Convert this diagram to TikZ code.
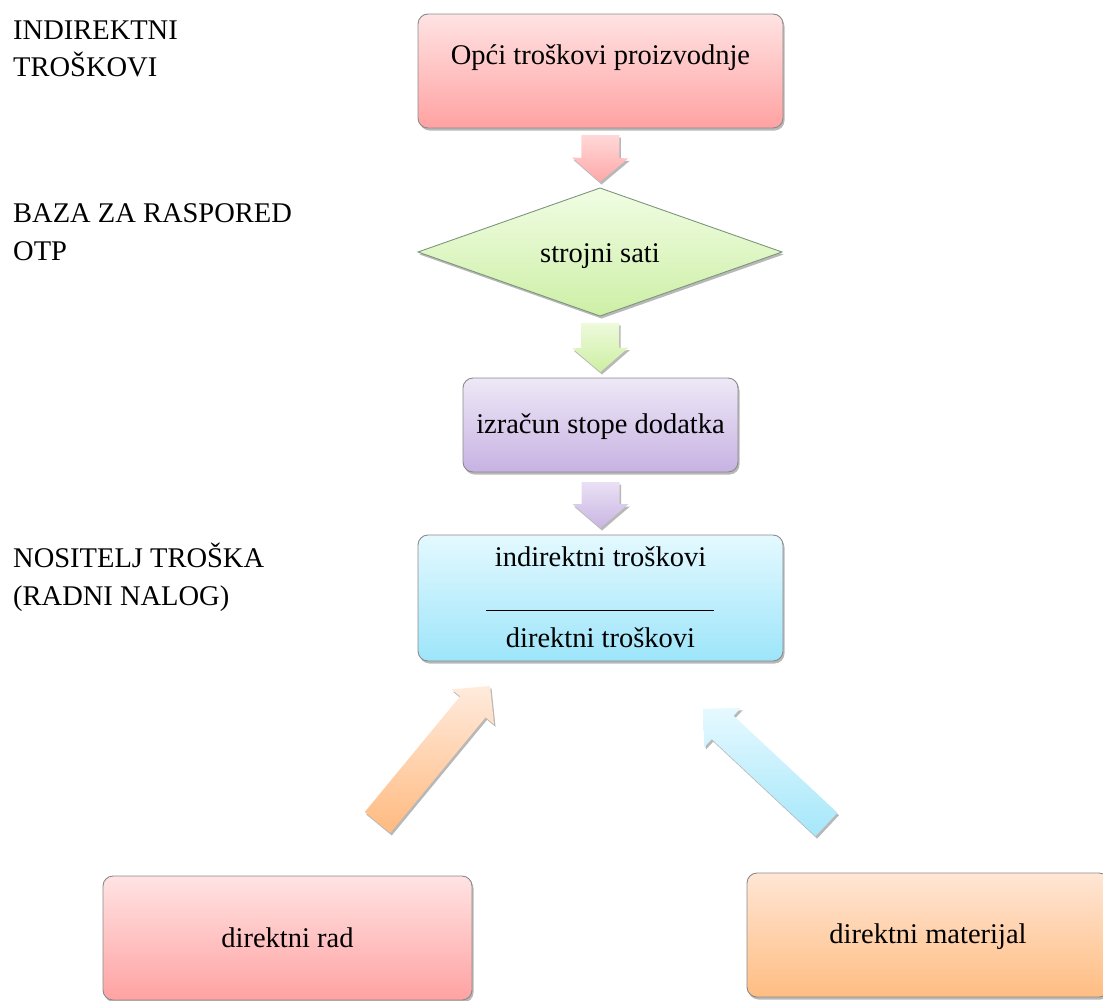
\documentclass[tikz,border=0pt]{standalone}
\usepackage{fontspec}
\setmainfont{Liberation Serif}
\usetikzlibrary{shapes.geometric,shadows,calc}
\definecolor{pinkT}{HTML}{FFE3E3}\definecolor{pinkB}{HTML}{FFA2A2}
\definecolor{greenT}{HTML}{F1FDE4}\definecolor{greenB}{HTML}{CDEFA6}
\definecolor{purT}{HTML}{EEE8F7}\definecolor{purB}{HTML}{C7B2E2}
\definecolor{blueT}{HTML}{E4F9FF}\definecolor{blueB}{HTML}{9DE5FA}
\definecolor{orT}{HTML}{FFE6D5}\definecolor{orB}{HTML}{FFBD82}
\definecolor{apinkT}{HTML}{FFD8D8}\definecolor{apinkB}{HTML}{FFA8A8}
\definecolor{agreenT}{HTML}{EEFADC}\definecolor{agreenB}{HTML}{CDEFA2}
\definecolor{apurT}{HTML}{EAE0F4}\definecolor{apurB}{HTML}{C9B6E3}
\definecolor{aorT}{HTML}{FFEBDD}\definecolor{aorB}{HTML}{FFBA80}
\definecolor{ablueT}{HTML}{E6F9FF}\definecolor{ablueB}{HTML}{A5E7FA}
\definecolor{boxline}{HTML}{8A8A8A}
\newcommand\txtfont{\fontsize{28.5}{34}\selectfont}
% block arrow: #1 tail, #2 tip, #3 head length, #4 half shaft, #5 half head, #6 style
\newcommand\blockarr[6]{%
  \coordinate (hb) at ($(#2)!#3!(#1)$);
  \path[#6] ($(#1)!#4!90:(#2)$) -- ($(hb)!#4!90:(#2)$) -- ($(hb)!#5!90:(#2)$)
    -- (#2) -- ($(hb)!#5!-90:(#2)$) -- ($(hb)!#4!-90:(#2)$) -- ($(#1)!#4!-90:(#2)$) -- cycle;}
\tikzset{
  shad/.style={drop shadow={shadow xshift=1.5pt,shadow yshift=-2.5pt,opacity=0.28,fill=black}},
  box/.style={draw=boxline,line width=0.9pt,rounded corners=10pt,inner sep=0pt,outer sep=0pt,
    anchor=north,font=\txtfont,text=black,shad},
  lbl/.style={anchor=base west,inner sep=0pt,font=\txtfont,text=black},
  txt/.style={anchor=base,inner sep=0pt,font=\txtfont,text=black},
  barrowst/.style={shad}
}
\begin{document}
\begin{tikzpicture}[x=1pt,y=-1pt]
\useasboundingbox (0,0) rectangle (1103,1001);
% left labels
\node[lbl] (l1a) at (13,39) {INDIREKTNI};
\node[lbl] (l1b) at (13,76) {TROŠKOVI};
\node[lbl] (l2a) at (13,222) {BAZA ZA RASPORED};
\node[lbl] (l2b) at (13,260) {OTP};
\node[lbl] (l3a) at (13,567) {NOSITELJ TROŠKA};
\node[lbl] (l3b) at (13,605) {(RADNI NALOG)};
% boxes
\node[box,top color=pinkT,bottom color=pinkB,minimum width=365pt,text height=50pt,text depth=64pt]
  (top) at (600.5,14) {Opći troškovi proizvodnje};
\node[diamond,aspect=2.84,draw=boxline!90!green,line width=0.9pt,inner sep=0pt,outer sep=0pt,
  minimum width=364pt,minimum height=128pt,top color=greenT,bottom color=greenB,
  text height=22pt,text depth=2pt,font=\txtfont,shad] (dia) at (600,252) {strojni sati};
\node[box,top color=purT,bottom color=purB,minimum width=275pt,text height=55pt,text depth=39pt]
  (calc) at (600.5,378) {izračun stope dodatka};
\node[box,top color=blueT,bottom color=blueB,minimum width=365pt,text height=31pt,text depth=95pt]
  (frac) at (600.5,535) {indirektni troškovi};
\node[txt] (fracb) at (600.5,647) {direktni troškovi};
\coordinate (rl) at ($(frac.north)+(-114.5,75)$);
\coordinate (rr) at ($(frac.north)+(113.5,75)$);
\draw[line width=0.9pt,black] (rl) -- (rr);
\node[box,top color=pinkT,bottom color=pinkB,minimum width=369pt,text height=71pt,text depth=53pt]
  (rad) at (287.5,876) {direktni rad};
\node[box,top color=orT,bottom color=orB,minimum width=362pt,text height=70pt,text depth=54pt]
  (mat) at (928,873) {direktni materijal};
% arrow end points
\coordinate (a1t) at ($(top.south)+(0,7)$);
\coordinate (a1p) at ($(dia.north)+(0,-6)$);
\coordinate (a2t) at ($(dia.south)+(0,7)$);
\coordinate (a2p) at ($(calc.north)+(0,-6)$);
\coordinate (a3t) at ($(calc.south)+(0,10)$);
\coordinate (a3p) at ($(frac.north)+(0,-7)$);
\coordinate (a4t) at (377.5,822.5);
\coordinate (a4p) at (490,686);
\coordinate (a5t) at (826.5,824.5);
\coordinate (a5p) at (703,709);
% block arrows
\blockarr{a1t}{a1p}{24pt}{19pt}{28pt}{barrowst,top color=apinkT,bottom color=apinkB}
\blockarr{a2t}{a2p}{24pt}{19pt}{28pt}{barrowst,top color=agreenT,bottom color=agreenB}
\blockarr{a3t}{a3p}{24pt}{19pt}{28pt}{barrowst,top color=apurT,bottom color=apurB}
\blockarr{a4t}{a4p}{27pt}{16.5pt}{27.5pt}{barrowst,top color=aorT,bottom color=aorB}
\blockarr{a5t}{a5p}{27pt}{16pt}{27pt}{barrowst,top color=ablueT,bottom color=ablueB}
\end{tikzpicture}
\end{document}
